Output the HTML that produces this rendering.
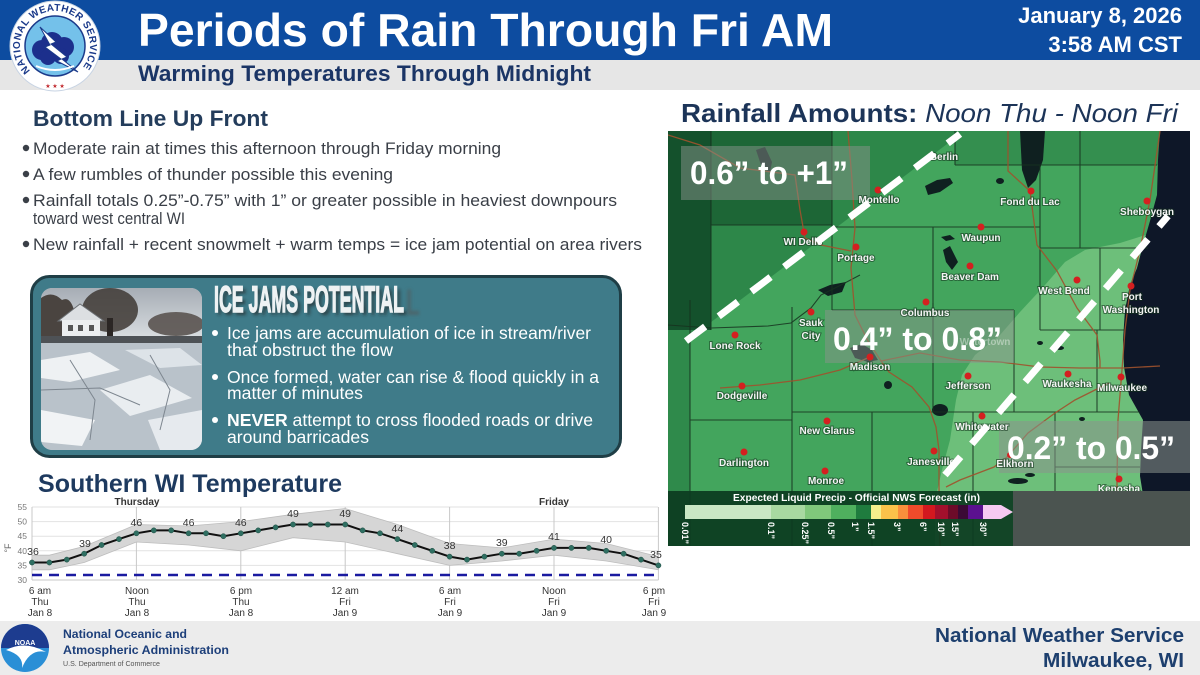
<!DOCTYPE html>
<html><head><meta charset="utf-8"><style>
html,body{margin:0;padding:0;background:#fff;overflow:hidden;}
svg{display:block;font-family:"Liberation Sans",Arial,sans-serif;}
</style></head><body>
<svg width="1200" height="675" viewBox="0 0 1200 675" xmlns="http://www.w3.org/2000/svg">
<defs>
  <clipPath id="mapclip"><rect x="668" y="131" width="522" height="415"/></clipPath>
  <clipPath id="pc"><rect x="41" y="288" width="161" height="162" rx="11"/></clipPath>
  <linearGradient id="sky" x1="0" y1="0" x2="0" y2="1"><stop offset="0" stop-color="#a6adb5"/><stop offset="1" stop-color="#d9dde0"/></linearGradient>
  <filter id="blur"><feGaussianBlur stdDeviation="1.6"/></filter>
  <path id="arc" d="M 30.3 70.7 A 35 35 0 1 1 79.7 70.7" fill="none"/>
</defs>
<rect width="1200" height="675" fill="#fff"/>

<!-- HEADER -->
<rect x="0" y="0" width="1200" height="60" fill="#0d4ca0"/>
<rect x="0" y="60" width="1200" height="30" fill="#e6e6e6"/>
<text x="138" y="46" font-size="46" font-weight="bold" fill="#fff" textLength="695" lengthAdjust="spacingAndGlyphs">Periods of Rain Through Fri AM</text>
<text x="138" y="81" font-size="22" font-weight="bold" fill="#1b3566" textLength="453" lengthAdjust="spacingAndGlyphs">Warming Temperatures Through Midnight</text>
<text x="1182" y="23" font-size="22" font-weight="bold" fill="#fff" text-anchor="end">January 8, 2026</text>
<text x="1182" y="52" font-size="22" font-weight="bold" fill="#fff" text-anchor="end">3:58 AM CST</text>

<!-- NWS logo -->
<g>
  <circle cx="55" cy="46" r="45" fill="#fff" stroke="#c7d3e3" stroke-width="1"/>
  <circle cx="55" cy="46" r="30" fill="#74c1ea" stroke="#1b3a8a" stroke-width="1.5"/>
  <text font-size="10" font-weight="bold" fill="#1b3a8a"><textPath href="#arc" textLength="160" lengthAdjust="spacing">NATIONAL WEATHER SERVICE</textPath></text>
  <g fill="#1c2f8c">
    <circle cx="42" cy="50" r="10"/><circle cx="52" cy="43" r="11"/><circle cx="64" cy="47" r="10"/>
    <circle cx="48" cy="57" r="8"/><circle cx="61" cy="56" r="8"/>
  </g>
  <path d="M40 27 L56 42 L51 44 L67 57 L62 59 L78 72 L57 61 L61 59 L45 47 L50 45 Z" fill="#fff" stroke="#1b3a8a" stroke-width="1"/>
  <path d="M36 66 Q55 74 74 66" fill="none" stroke="#fff" stroke-width="2"/>
  <text x="55" y="88" font-size="6" fill="#c0282d" text-anchor="middle">★ ★ ★</text>
</g>

<!-- BOTTOM LINE UP FRONT -->
<text x="33" y="126" font-size="22" font-weight="bold" fill="#243d5c" textLength="235" lengthAdjust="spacingAndGlyphs">Bottom Line Up Front</text>
<g fill="#3a3f47" font-size="17">
  <circle cx="26" cy="148" r="3.2"/>
  <text x="33" y="154" textLength="468" lengthAdjust="spacingAndGlyphs">Moderate rain at times this afternoon through Friday morning</text>
  <circle cx="26" cy="174" r="3.2"/>
  <text x="33" y="180" textLength="360" lengthAdjust="spacingAndGlyphs">A few rumbles of thunder possible this evening</text>
  <circle cx="26" cy="200" r="3.2"/>
  <text x="33" y="206" textLength="584" lengthAdjust="spacingAndGlyphs">Rainfall totals 0.25”-0.75” with 1” or greater possible in heaviest downpours</text>
  <text x="33" y="224" textLength="152" lengthAdjust="spacingAndGlyphs">toward west central WI</text>
  <circle cx="26" cy="244" r="3.2"/>
  <text x="33" y="250" textLength="609" lengthAdjust="spacingAndGlyphs">New rainfall + recent snowmelt + warm temps = ice jam potential on area rivers</text>
</g>

<!-- ICE JAMS BOX -->
<rect x="31.5" y="276.5" width="589" height="180" rx="18" fill="#3f7b89" stroke="#1f3e46" stroke-width="3"/>
<g clip-path="url(#pc)">
  <rect x="41" y="288" width="161" height="162" fill="#c3cad1"/>
  <rect x="41" y="288" width="161" height="50" fill="url(#sky)"/>
  <path d="M41 298 Q52 290 62 300 Q70 296 74 310 L74 338 L41 338 Z" fill="#4a4440"/>
  <ellipse cx="110" cy="310" rx="28" ry="22" fill="#3e3834" opacity="0.85"/>
  <rect x="107" y="318" width="6" height="22" fill="#2b2624"/>
  <ellipse cx="176" cy="324" rx="28" ry="12" fill="#5a5350" opacity="0.9"/>
  <polygon points="58,321 80,304 104,321" fill="#dcdfe2" stroke="#6b6f73" stroke-width="1"/>
  <rect x="62" y="320" width="38" height="18" fill="#eceeef"/>
  <rect x="68" y="325" width="5" height="6" fill="#555"/><rect x="78" y="325" width="5" height="6" fill="#555"/><rect x="89" y="325" width="5" height="6" fill="#555"/>
  <rect x="41" y="336" width="161" height="7" fill="#4e5256"/>
  <rect x="41" y="343" width="161" height="107" fill="#b9c2ca"/>
  <polygon points="41,360 90,352 120,370 70,382 41,378" fill="#eef1f3"/>
  <polygon points="100,390 150,375 192,398 130,416" fill="#e9edf0"/>
  <polygon points="41,410 95,420 82,446 41,442" fill="#f1f3f5"/>
  <polygon points="148,420 202,410 202,450 160,450" fill="#e6eaee"/>
  <polygon points="125,350 180,348 202,365 160,368" fill="#dde3e8"/>
  <g stroke="#7d868f" stroke-width="1" fill="none">
    <path d="M41 390 L100 388 L140 405"/><path d="M70 360 L95 400 L90 440"/><path d="M150 355 L170 390 L160 430"/>
  </g>
</g>
<text x="217" y="315" font-size="37" font-weight="bold" fill="#222" opacity="0.65" filter="url(#blur)" textLength="190" lengthAdjust="spacingAndGlyphs">ICE JAMS POTENTIAL</text>
<text x="406" y="315" font-size="37" font-weight="bold" fill="#555" opacity="0.55" filter="url(#blur)" textLength="14" lengthAdjust="spacingAndGlyphs">L</text>
<text x="214" y="312" font-size="37" font-weight="bold" fill="#eef2f3" stroke="#eef2f3" stroke-width="1.4" textLength="190" lengthAdjust="spacingAndGlyphs">ICE JAMS POTENTIAL</text>
<g fill="#fff" font-size="17.5">
  <circle cx="215" cy="333" r="3"/>
  <text x="227" y="339" textLength="364" lengthAdjust="spacingAndGlyphs">Ice jams are accumulation of ice in stream/river</text>
  <text x="227" y="356" textLength="166" lengthAdjust="spacingAndGlyphs">that obstruct the flow</text>
  <circle cx="215" cy="377" r="3"/>
  <text x="227" y="383" textLength="372" lengthAdjust="spacingAndGlyphs">Once formed, water can rise &amp; flood quickly in a</text>
  <text x="227" y="399" textLength="136" lengthAdjust="spacingAndGlyphs">matter of minutes</text>
  <circle cx="215" cy="420" r="3"/>
  <text x="227" y="426" textLength="366" lengthAdjust="spacingAndGlyphs"><tspan font-weight="bold">NEVER</tspan> attempt to cross flooded roads or drive</text>
  <text x="227" y="443" textLength="142" lengthAdjust="spacingAndGlyphs">around barricades</text>
</g>

<!-- TEMPERATURE CHART -->
<text x="38" y="492" font-size="25" font-weight="bold" fill="#1e3a5f" textLength="304" lengthAdjust="spacingAndGlyphs">Southern WI Temperature</text>
<g stroke="#e2e2e2" stroke-width="1">
  <line x1="32" y1="507" x2="658" y2="507"/><line x1="32" y1="521.6" x2="658" y2="521.6"/>
  <line x1="32" y1="536.2" x2="658" y2="536.2"/><line x1="32" y1="550.8" x2="658" y2="550.8"/>
  <line x1="32" y1="565.4" x2="658" y2="565.4"/>
</g>
<g stroke="#c8c8c8" stroke-width="1">
  <line x1="32" y1="507" x2="32" y2="580"/><line x1="136.4" y1="507" x2="136.4" y2="580"/>
  <line x1="240.8" y1="507" x2="240.8" y2="580"/><line x1="345.2" y1="507" x2="345.2" y2="580"/>
  <line x1="449.6" y1="507" x2="449.6" y2="580"/><line x1="554" y1="507" x2="554" y2="580"/>
  <line x1="658.4" y1="507" x2="658.4" y2="580"/>
  <line x1="32" y1="580" x2="658.4" y2="580"/>
</g>
<polygon points="32,555.2 49.4,555.2 84.2,546.4 136.4,524.5 188.6,526 240.8,521.6 293,514.3 345.2,508.5 397.4,524.5 449.6,543.5 501.8,547.9 554,539.1 606.2,543.5 658.4,556.6 658.4,569.8 606.2,561 554,555.2 501.8,561 449.6,565.4 397.4,553.7 345.2,542 293,537.7 240.8,550.8 188.6,545 136.4,542 84.2,562.5 49.4,569.8 32,569.8" fill="#d6d6d6" stroke="#bdbdbd" stroke-width="0.8"/>
<line x1="32" y1="575" x2="658" y2="575" stroke="#1a1aa0" stroke-width="2.6" stroke-dasharray="10 7"/>
<polyline fill="none" stroke="#111" stroke-width="2" points="32,562.5 49.4,562.5 66.8,559.6 84.2,553.7 101.6,545 119,539.1 136.4,533.3 153.8,530.4 171.2,530.4 188.6,533.3 206,533.3 223.4,536.2 240.8,533.3 258.2,530.4 275.6,527.4 293,524.5 310.4,524.5 327.8,524.5 345.2,524.5 362.6,530.4 380,533.3 397.4,539.1 414.8,545 432.2,550.8 449.6,556.6 467,559.6 484.4,556.6 501.8,553.7 519.2,553.7 536.6,550.8 554,547.9 571.4,547.9 588.8,547.9 606.2,550.8 623.6,553.7 641,559.6 658.4,565.4"/>
<g fill="#2f6f62" stroke="#1d4a40" stroke-width="0.5">
<circle cx="32" cy="562.5" r="2.6"/><circle cx="49.4" cy="562.5" r="2.6"/><circle cx="66.8" cy="559.6" r="2.6"/><circle cx="84.2" cy="553.7" r="2.6"/><circle cx="101.6" cy="545" r="2.6"/><circle cx="119" cy="539.1" r="2.6"/><circle cx="136.4" cy="533.3" r="2.6"/><circle cx="153.8" cy="530.4" r="2.6"/><circle cx="171.2" cy="530.4" r="2.6"/><circle cx="188.6" cy="533.3" r="2.6"/><circle cx="206" cy="533.3" r="2.6"/><circle cx="223.4" cy="536.2" r="2.6"/><circle cx="240.8" cy="533.3" r="2.6"/><circle cx="258.2" cy="530.4" r="2.6"/><circle cx="275.6" cy="527.4" r="2.6"/><circle cx="293" cy="524.5" r="2.6"/><circle cx="310.4" cy="524.5" r="2.6"/><circle cx="327.8" cy="524.5" r="2.6"/><circle cx="345.2" cy="524.5" r="2.6"/><circle cx="362.6" cy="530.4" r="2.6"/><circle cx="380" cy="533.3" r="2.6"/><circle cx="397.4" cy="539.1" r="2.6"/><circle cx="414.8" cy="545" r="2.6"/><circle cx="432.2" cy="550.8" r="2.6"/><circle cx="449.6" cy="556.6" r="2.6"/><circle cx="467" cy="559.6" r="2.6"/><circle cx="484.4" cy="556.6" r="2.6"/><circle cx="501.8" cy="553.7" r="2.6"/><circle cx="519.2" cy="553.7" r="2.6"/><circle cx="536.6" cy="550.8" r="2.6"/><circle cx="554" cy="547.9" r="2.6"/><circle cx="571.4" cy="547.9" r="2.6"/><circle cx="588.8" cy="547.9" r="2.6"/><circle cx="606.2" cy="550.8" r="2.6"/><circle cx="623.6" cy="553.7" r="2.6"/><circle cx="641" cy="559.6" r="2.6"/><circle cx="658.4" cy="565.4" r="2.6"/>
</g>
<g font-size="10.5" fill="#333" text-anchor="middle">
  <text x="33" y="555">36</text><text x="85" y="547">39</text><text x="136.4" y="526">46</text>
  <text x="188.6" y="526">46</text><text x="240.8" y="526">46</text><text x="293" y="517">49</text>
  <text x="345.2" y="517">49</text><text x="397.4" y="532">44</text><text x="449.6" y="549">38</text>
  <text x="501.8" y="546">39</text><text x="554" y="540">41</text><text x="606.2" y="543">40</text>
  <text x="656" y="558">35</text>
</g>
<g font-size="8.5" fill="#777" text-anchor="end">
  <text x="27" y="510">55</text><text x="27" y="524.6">50</text><text x="27" y="539.2">45</text>
  <text x="27" y="553.8">40</text><text x="27" y="568.4">35</text><text x="27" y="583">30</text>
</g>
<text x="0" y="0" font-size="9" fill="#666" transform="translate(11,548) rotate(-90)" text-anchor="middle">°F</text>
<g font-size="10" font-weight="bold" fill="#333" text-anchor="middle">
  <text x="137" y="505">Thursday</text><text x="554" y="505">Friday</text>
</g>
<g font-size="10" fill="#333" text-anchor="middle">
  <text x="40" y="594">6 am</text><text x="40" y="605">Thu</text><text x="40" y="616">Jan 8</text>
  <text x="137" y="594">Noon</text><text x="137" y="605">Thu</text><text x="137" y="616">Jan 8</text>
  <text x="241" y="594">6 pm</text><text x="241" y="605">Thu</text><text x="241" y="616">Jan 8</text>
  <text x="345" y="594">12 am</text><text x="345" y="605">Fri</text><text x="345" y="616">Jan 9</text>
  <text x="450" y="594">6 am</text><text x="450" y="605">Fri</text><text x="450" y="616">Jan 9</text>
  <text x="554" y="594">Noon</text><text x="554" y="605">Fri</text><text x="554" y="616">Jan 9</text>
  <text x="654" y="594">6 pm</text><text x="654" y="605">Fri</text><text x="654" y="616">Jan 9</text>
</g>

<!-- RAINFALL TITLE -->
<text x="681" y="122" font-size="26" fill="#1c3458" textLength="497" lengthAdjust="spacingAndGlyphs"><tspan font-weight="bold">Rainfall Amounts:</tspan><tspan font-style="italic"> Noon Thu - Noon Fri</tspan></text>

<!-- MAP -->
<g clip-path="url(#mapclip)">
  <rect x="668" y="131" width="522" height="415" fill="#43a55d"/>
  <rect x="955" y="131" width="205" height="34" fill="#348f4f"/>
  <polygon points="668,131 962,131 955,138 686,341 668,346" fill="#2d8749"/>
  <polygon points="668,131 832,131 832,225 711,225 711,330 668,330" fill="#1d6636"/>
  <rect x="668" y="131" width="43" height="199" fill="#14512c"/>
  <rect x="668" y="330" width="22" height="216" fill="#2f8a4b"/>
  <polygon points="1152,233 1120,243 1085,250 1065,262 1045,285 1020,312 1000,335 975,355 962,375 956,400 950,440 942,470 935,500 935,546 1190,546 1190,233" fill="#6dbf7a"/>
  <!-- lakes -->
  <g fill="#0f2020">
    <polygon points="1020,131 1045,131 1043,160 1036,180 1028,188 1022,170"/>
    <polygon points="925,186 937,180 950,178 953,183 940,192 928,195"/>
    <polygon points="941,237 950,235 955,239 946,241"/>
    <polygon points="756,150 765,147 772,162 770,172 762,168"/>
    <polygon points="818,290 830,285 846,282 842,292 828,296"/>
    <polygon points="850,348 862,344 872,350 878,360 868,362 855,358"/>
    <ellipse cx="888" cy="385" rx="4" ry="4"/>
    <ellipse cx="940" cy="410" rx="8" ry="6"/>
    <polygon points="943,250 950,246 958,262 952,270 946,262"/>
    <ellipse cx="1018" cy="481" rx="10" ry="3"/>
    <ellipse cx="1040" cy="343" rx="3" ry="2"/><ellipse cx="1060" cy="348" rx="4" ry="2"/>
    <ellipse cx="1030" cy="475" rx="5" ry="2"/><ellipse cx="1082" cy="419" rx="3" ry="2"/>
    <ellipse cx="1000" cy="181" rx="4" ry="3"/>
  </g>
  <!-- lake michigan -->
  <polygon points="1160,131 1158,160 1157,195 1150,221 1143,245 1137,268 1130,285 1125,310 1123,340 1124,367 1129,395 1143,420 1141,450 1140,476 1143,495 1145,546 1190,546 1190,131" fill="#0e1728"/>
  <!-- county lines -->
  <g stroke="#17321f" stroke-width="1.1" fill="none" opacity="0.85">
    <path d="M711 131V330"/><path d="M711 225H832"/><path d="M832 131V310"/><path d="M832 310H1014"/>
    <path d="M955 131V165"/><path d="M955 165H1157"/><path d="M1080 131V248"/><path d="M832 227H1040"/>
    <path d="M933 227V310"/>
    <path d="M1040 165V330"/><path d="M1040 248H1148"/><path d="M1100 248V330"/><path d="M1014 310V412"/>
    <path d="M933 303V412"/><path d="M1040 330H1125"/><path d="M690 300V546"/><path d="M690 420H792"/>
    <path d="M792 307V546"/><path d="M792 412H1140"/><path d="M872 412V546"/><path d="M973 412V546"/>
    <path d="M1055 412V546"/><path d="M1097 330V412"/><path d="M1055 467H1140"/>
    <path d="M668 325L711 328L768 326L791 323L811 308L821 295L841 285L860 275"/>
  </g>
  <!-- roads -->
  <g stroke="#a0522d" stroke-width="1.3" fill="none" opacity="0.9">
    <path d="M668 135L700 145L740 168L795 175L800 210L805 238L821 245L851 251"/>
    <path d="M848 131L852 180L855 228L851 268L855 315L868 341L881 361"/>
    <path d="M881 361L920 353L960 360L1000 362L1040 367L1080 368L1123 368L1160 366"/>
    <path d="M881 361L889 372L912 387L929 407L936 427L939 450L939 487L940 546"/>
    <path d="M1008 131L1008 171L1030 191L1037 245L1057 271L1077 308L1097 335L1100 361L1100 368"/>
    <path d="M1160 131L1150 200L1140 250L1130 290L1125 330L1122 370L1118 420L1117 480L1117 546"/>
    <path d="M1109 383L1075 400L1055 413L1028 433L1007 457L994 467L960 480L946 487"/>
    <path d="M870 357L840 370L800 380L760 385L720 388"/>
  </g>
  <!-- boxes -->
  <rect x="681" y="146" width="189" height="54" fill="#8a948c" opacity="0.5"/>
  <rect x="825" y="310" width="189" height="53" fill="#8a948c" opacity="0.5"/>
  <rect x="999" y="421" width="191" height="52" fill="#8a948c" opacity="0.55"/>
  <!-- cities -->
  <g fill="#d42020">
    <circle cx="878" cy="190" r="3.5"/><circle cx="804" cy="232" r="3.5"/><circle cx="856" cy="247" r="3.5"/>
    <circle cx="926" cy="302" r="3.5"/><circle cx="811" cy="312" r="3.5"/><circle cx="735" cy="335" r="3.5"/>
    <circle cx="870" cy="357" r="3.5"/><circle cx="1031" cy="191" r="3.5"/><circle cx="1147" cy="201" r="3.5"/>
    <circle cx="981" cy="227" r="3.5"/><circle cx="970" cy="266" r="3.5"/><circle cx="1077" cy="280" r="3.5"/>
    <circle cx="1131" cy="286" r="3.5"/><circle cx="968" cy="376" r="3.5"/><circle cx="1068" cy="374" r="3.5"/>
    <circle cx="1121" cy="377" r="3.5"/><circle cx="742" cy="386" r="3.5"/><circle cx="827" cy="421" r="3.5"/>
    <circle cx="744" cy="452" r="3.5"/><circle cx="825" cy="471" r="3.5"/><circle cx="934" cy="451" r="3.5"/>
    <circle cx="982" cy="416" r="3.5"/><circle cx="1119" cy="479" r="3.5"/><circle cx="1010" cy="455" r="3"/>
  </g>
  <g font-size="10" font-weight="bold" fill="#f4f4f4" text-anchor="middle" stroke="#10301a" stroke-width="2" stroke-opacity="0.55" paint-order="stroke">
    <text x="879" y="203">Montello</text><text x="803" y="245">WI Dells</text><text x="856" y="261">Portage</text>
    <text x="925" y="316">Columbus</text><text x="811" y="326">Sauk</text><text x="811" y="339">City</text>
    <text x="735" y="349">Lone Rock</text><text x="870" y="370">Madison</text><text x="944" y="160">Berlin</text>
    <text x="1030" y="205">Fond du Lac</text><text x="1147" y="215">Sheboygan</text><text x="981" y="241">Waupun</text>
    <text x="970" y="280">Beaver Dam</text><text x="1064" y="294">West Bend</text><text x="1132" y="300">Port</text>
    <text x="1131" y="313">Washington</text><text x="968" y="389">Jefferson</text><text x="1067" y="387">Waukesha</text>
    <text x="1122" y="391">Milwaukee</text><text x="742" y="399">Dodgeville</text><text x="827" y="434">New Glarus</text>
    <text x="744" y="466">Darlington</text><text x="826" y="484">Monroe</text><text x="931" y="465">Janesville</text>
    <text x="982" y="430">Whitewater</text><text x="1015" y="467">Elkhorn</text><text x="1119" y="492">Kenosha</text>
  </g>
  <text x="985" y="345" font-size="10" font-weight="bold" fill="#fff" opacity="0.4" text-anchor="middle">Watertown</text>
  <!-- big labels -->
  <g font-size="32" font-weight="bold" fill="#fff">
    <text x="690" y="184" textLength="158" lengthAdjust="spacingAndGlyphs">0.6” to +1”</text>
    <text x="833" y="350" textLength="169" lengthAdjust="spacingAndGlyphs">0.4” to 0.8”</text>
    <text x="1007" y="459" textLength="168" lengthAdjust="spacingAndGlyphs">0.2” to 0.5”</text>
  </g>
  <!-- dashed lines -->
  <g stroke="#fff" stroke-width="7" stroke-dasharray="24 17" fill="none">
    <line x1="686" y1="341" x2="960" y2="134"/>
    <line x1="945" y1="475" x2="1168" y2="216"/>
  </g>
  <!-- legend -->
  <rect x="668" y="491" width="345" height="55" fill="#0c3b20" opacity="0.93"/>
  <rect x="1013" y="491" width="177" height="55" fill="#4b5450"/>
  <text x="733" y="501" font-size="10.5" font-weight="bold" fill="#fff" textLength="247" lengthAdjust="spacingAndGlyphs">Expected Liquid Precip - Official NWS Forecast (in)</text>
  <rect x="685" y="505" width="86" height="14" fill="#c9e7c4"/>
  <rect x="771" y="505" width="34" height="14" fill="#a8d9a1"/>
  <rect x="805" y="505" width="26" height="14" fill="#80c87b"/>
  <rect x="831" y="505" width="25" height="14" fill="#4fb05e"/>
  <rect x="856" y="505" width="15" height="14" fill="#1f7c3e"/>
  <rect x="871" y="505" width="10" height="14" fill="#f6ef8c"/>
  <rect x="881" y="505" width="17" height="14" fill="#fbc24a"/>
  <rect x="898" y="505" width="10" height="14" fill="#f98f3c"/>
  <rect x="908" y="505" width="15" height="14" fill="#f04b2b"/>
  <rect x="923" y="505" width="12" height="14" fill="#d3181f"/>
  <rect x="935" y="505" width="13" height="14" fill="#a3102c"/>
  <rect x="948" y="505" width="10" height="14" fill="#6d0b29"/>
  <rect x="958" y="505" width="10" height="14" fill="#3b0a35"/>
  <rect x="968" y="505" width="15" height="14" fill="#5b1190"/>
  <rect x="983" y="505" width="18" height="14" fill="#f5c9f1"/>
  <polygon points="1001,505 1013,512 1001,519" fill="#f5c9f1"/>
  <g font-size="9" font-weight="bold" fill="#fff">
    <text transform="translate(682,522) rotate(90)">0.01”</text>
    <text transform="translate(768,522) rotate(90)">0.1”</text>
    <text transform="translate(802,522) rotate(90)">0.25”</text>
    <text transform="translate(828,522) rotate(90)">0.5”</text>
    <text transform="translate(852,522) rotate(90)">1”</text>
    <text transform="translate(868,522) rotate(90)">1.5”</text>
    <text transform="translate(894,522) rotate(90)">3”</text>
    <text transform="translate(920,522) rotate(90)">6”</text>
    <text transform="translate(938,522) rotate(90)">10”</text>
    <text transform="translate(952,522) rotate(90)">15”</text>
    <text transform="translate(980,522) rotate(90)">30”</text>
  </g>
</g>

<!-- FOOTER -->
<rect x="0" y="621" width="1200" height="54" fill="#ececec"/>
<g>
  <circle cx="25" cy="648" r="24" fill="#2a8fd6"/>
  <path d="M1 648 A24 24 0 0 1 49 648 Z" fill="#1d3c8f"/>
  <path d="M6 650 Q25 640 46 652 Q30 648 22 668 Q24 655 6 650 Z" fill="#fff"/>
  <text x="25" y="645" font-size="7" font-weight="bold" fill="#fff" text-anchor="middle">NOAA</text>
</g>
<text x="63" y="638" font-size="12" font-weight="bold" fill="#1d3f7a" textLength="124" lengthAdjust="spacingAndGlyphs">National Oceanic and</text>
<text x="63" y="654" font-size="12" font-weight="bold" fill="#1d3f7a" textLength="166" lengthAdjust="spacingAndGlyphs">Atmospheric Administration</text>
<text x="63" y="666" font-size="7" fill="#555" textLength="97" lengthAdjust="spacingAndGlyphs">U.S. Department of Commerce</text>
<text x="1184" y="642" font-size="20" font-weight="bold" fill="#1d3f6e" text-anchor="end" textLength="249" lengthAdjust="spacingAndGlyphs">National Weather Service</text>
<text x="1184" y="667" font-size="20" font-weight="bold" fill="#1d3f6e" text-anchor="end" textLength="141" lengthAdjust="spacingAndGlyphs">Milwaukee, WI</text>
</svg>
</body></html>
